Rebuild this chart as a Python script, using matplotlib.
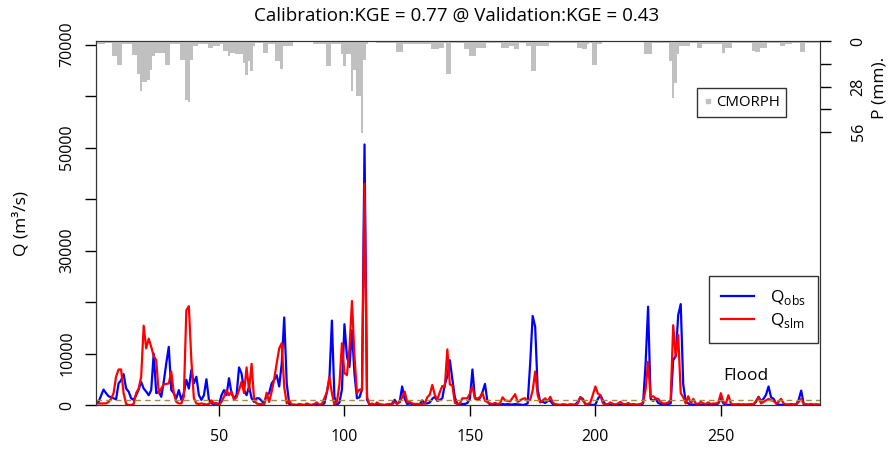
import numpy as np
import matplotlib
matplotlib.use("Agg")
import matplotlib.pyplot as plt
from matplotlib.lines import Line2D

plt.rcParams['font.family'] = ['Open Sans', 'DejaVu Sans']
plt.rcParams['mathtext.fontset'] = 'custom'
plt.rcParams['mathtext.rm'] = 'Open Sans'

# daily discharge, observed (m3/s)
q_obs = [
    300, 600, 1800, 3000, 2300, 1700, 1500, 1300, 1100, 4200,
    4800, 6000, 3200, 2600, 1300, 1000, 1900, 3000, 4500, 3200,
    2600, 1900, 2900, 10000, 2300, 2600, 1600, 4500, 8100, 11300,
    2900, 2300, 1300, 2900, 1000, 2300, 4900, 3200, 6800, 4200,
    5500, 1900, 1000, 1900, 5000, 1000, 300, 200, 300, 0,
    1900, 2900, 1900, 5200, 2300, 1300, 1900, 7300, 6100, 2900,
    1900, 3600, 1300, 600, 1300, 1300, 800, 300, 1900, 2300,
    4200, 4900, 5800, 3600, 8000, 17000, 4200, 200, 100, 0,
    0, 100, 0, 0, 100, 0, 0, 100, 0, 0,
    100, 300, 2500, 5000, 16400, 1600, 0, 500, 3000, 15700,
    9400, 7400, 14500, 6000, 1300, 1500, 3000, 50600, 1000, 100,
    100, 0, 0, 100, 0, 0, 100, 0, 300, 1000,
    300, 600, 3600, 1200, 200, 300, 200, 100, 200, 100,
    900, 300, 300, 500, 1200, 1600, 800, 1000, 1300, 4000,
    5600, 8700, 5000, 1500, 200, 100, 200, 200, 400, 1200,
    6900, 1300, 1000, 1300, 2500, 4100, 600, 100, 100, 0,
    100, 0, 200, 100, 200, 100, 100, 200, 100, 100,
    0, 100, 300, 8000, 17300, 15200, 3000, 600, 600, 400,
    800, 800, 200, 100, 0, 0, 100, 0, 0, 100,
    0, 100, 600, 1500, 1200, 200, 0, 100, 0, 100,
    1200, 1900, 900, 100, 0, 0, 100, 0, 0, 100,
    0, 100, 0, 0, 100, 0, 0, 100, 300, 8000,
    19100, 1200, 800, 1200, 400, 200, 100, 100, 200, 300,
    8700, 9500, 17500, 19600, 4000, 600, 300, 100, 100, 0,
    100, 0, 100, 100, 0, 100, 0, 100, 300, 1300,
    300, 100, 0, 100, 0, 100, 0, 0, 100, 0,
    100, 0, 100, 600, 1600, 800, 1200, 2000, 3600, 1500,
    1200, 300, 100, 0, 100, 0, 100, 0, 100, 100,
    1000, 2800, 200, 100, 0, 100, 0, 100, 0]

# daily discharge, simulated (m3/s)
q_sim = [
    300, 300, 300, 300, 300, 600, 1200, 2300, 5500, 6900,
    6900, 2300, 200, 0, 0, 200, 2300, 3200, 5500, 15400,
    11000, 12900, 11300, 9500, 8700, 2300, 3200, 4000, 4100, 4200,
    6500, 2300, 600, 300, 300, 1600, 18400, 19200, 8700, 1300,
    300, 200, 300, 200, 100, 200, 900, 300, 400, 0,
    600, 1600, 2900, 1900, 2600, 1000, 1500, 2900, 4500, 2300,
    7300, 2900, 8000, 1000, 300, 200, 200, 0, 2400, 600,
    2600, 5000, 8100, 11000, 12000, 3500, 300, 900, 0, 100,
    0, 200, 100, 0, 300, 100, 0, 200, 500, 0,
    200, 1300, 2500, 5500, 2300, 0, 600, 4000, 12000, 6200,
    5800, 11000, 20200, 9400, 2300, 3000, 3000, 43000, 1500, 0,
    300, 0, 500, 100, 100, 0, 100, 200, 100, 600,
    200, 600, 1500, 2600, 600, 600, 300, 200, 200, 200,
    200, 300, 1500, 2000, 3900, 2000, 1000, 2500, 3700, 3500,
    10800, 4000, 3800, 400, 200, 300, 1300, 1300, 1300, 2200,
    3600, 1300, 1300, 1500, 2300, 800, 600, 300, 200, 400,
    200, 300, 1500, 900, 800, 700, 1400, 2100, 600, 900,
    1200, 1300, 800, 1000, 2800, 6500, 1900, 500, 900, 1300,
    700, 1600, 500, 100, 100, 0, 100, 100, 0, 100,
    100, 0, 300, 1500, 900, 200, 200, 500, 2000, 3600,
    2200, 1900, 300, 100, 200, 500, 200, 100, 300, 600,
    200, 100, 400, 100, 200, 100, 100, 200, 500, 3000,
    8400, 1500, 1700, 1300, 1200, 600, 300, 300, 500, 1000,
    15500, 9400, 13600, 2300, 1500, 300, 1700, 300, 1200, 300,
    200, 600, 300, 200, 500, 200, 300, 300, 500, 2300,
    600, 300, 1900, 300, 100, 100, 200, 100, 100, 100,
    100, 200, 100, 800, 1500, 300, 600, 900, 1200, 900,
    800, 300, 600, 1200, 300, 100, 100, 200, 100, 100,
    600, 1200, 200, 100, 100, 200, 100, 100, 100]

# daily CMORPH rainfall (mm)
rain = [
    0.5, 2, 2, 2, 1.5, 1.5, 1.5, 9, 9, 15,
    15, 2, 2, 2, 2, 8.5, 8.5, 20, 31, 25,
    25, 24, 18, 9.4, 7.3, 7.3, 7.3, 7.3, 14.5, 14.5,
    2, 2, 2, 2, 11.4, 11.4, 36, 37.7, 11.4, 3,
    3, 2, 2, 2, 2, 4, 4, 3, 3, 3,
    2, 6, 6, 9.4, 7.3, 7.3, 8.3, 8.3, 8.3, 13.5,
    20.7, 12.4, 18.6, 3, 1, 1, 1, 7.3, 7.3, 2,
    2, 2, 12.4, 12.4, 17, 3, 3, 2.8, 2.8, 0.5,
    0.5, 0.5, 0.5, 0.5, 0.5, 0.5, 0.5, 2, 2, 2,
    2, 2, 15.5, 15.5, 2, 2, 2, 2, 8.3, 15.5,
    8.3, 8.3, 31, 17.6, 34, 34, 56.6, 11.4, 2, 0.7,
    0.7, 0.7, 1.5, 1.5, 1.5, 1.5, 1.5, 1.5, 1.5, 1.5,
    7, 7, 7, 2, 2, 2, 2, 2, 2, 2,
    2, 2, 2, 2, 5, 5, 5, 4, 4, 1.5,
    20.6, 20.6, 1.5, 1.5, 1.5, 1.5, 1.5, 5, 5, 9.4,
    9.4, 9.4, 4, 4, 4, 4, 1.5, 1.5, 1.5, 1.5,
    1.5, 1.5, 4, 4, 4, 3, 3, 4.8, 4.8, 1.5,
    1, 1, 3, 3, 18.6, 18.6, 3, 3, 3, 3,
    3, 1.5, 1.5, 1.5, 1.5, 1.5, 1.5, 1, 1, 1,
    1, 1, 4, 4, 5, 5, 2, 1, 14.5, 14.5,
    2, 2, 0.5, 0.5, 0.5, 0.5, 0.5, 0.5, 0.5, 0.5,
    0.5, 0.5, 0.5, 0.5, 0.5, 0.5, 0.5, 0.5, 0.5, 8.3,
    8.3, 8.3, 1, 1, 1, 1, 1, 1, 1, 12,
    35, 26, 8.3, 3, 3, 3, 3, 1.5, 1.5, 1.5,
    4, 4, 2, 2, 2, 2, 2, 2, 2, 2,
    7.3, 4, 4, 4, 1.5, 1.5, 1.5, 1.5, 1.5, 1.5,
    1.5, 1.5, 6, 7, 7, 4, 4, 4, 1.5, 1.5,
    1.5, 1.5, 1.5, 3, 3, 2, 2, 2, 1.5, 1.5,
    1.5, 7, 7, 1.5, 1.5, 1.5, 1.5, 1.5, 1.5]

flood_q = 900
days = np.arange(1, len(q_obs) + 1)

fig = plt.figure(figsize=(8.91, 4.5), dpi=100)
ax = fig.add_axes([96/891, 45/450, 724/891, 364/450])

ax.plot(days, q_obs, color='blue', lw=1.6, label=r'Q$_\mathrm{obs}$')
ax.plot(days, q_sim, color='red', lw=1.6, label=r'Q$_\mathrm{slm}$')
ax.axhline(flood_q, color='#a8894c', lw=1.0, ls=(0, (4, 3)))
ax.text(260, 5700, 'Flood', ha='center', va='center', fontsize=12.5)

ax.set_xlim(1, 289.5)
ax.set_ylim(0, 70700)
ax.set_xticks([50, 100, 150, 200, 250])
ax.set_yticks(np.arange(0, 70001, 10000))
ax.set_yticklabels(['0', '10000', '', '30000', '', '50000', '', '70000'],
                   rotation=90, va='center')
ax.tick_params(axis='both', direction='out', length=8, width=1, labelsize=11.5)
ax.tick_params(axis='x', pad=9)
ax.tick_params(axis='y', pad=7)
ax.set_ylabel('Q (m³/s)', fontsize=12.5)
ax.yaxis.set_label_coords(-0.092, 0.5)
for s in ax.spines.values():
    s.set_color('#333333')

ax.legend(loc='upper left', bbox_to_anchor=(709/891, 1 - 276/450),
          bbox_transform=fig.transFigure, fancybox=False, edgecolor='#333333',
          framealpha=1, fontsize=12.5, handlelength=1.9, borderpad=0.7,
          labelspacing=0.25, handletextpad=0.9, borderaxespad=0)

ax2 = ax.twinx()
ax2.bar(days, rain, width=1.0, color='#c0c0c0', linewidth=0)
ax2.set_ylim(224, 0)
ax2.set_yticks([0, 14, 28, 42, 56])
ax2.set_yticklabels(['0', '', '28', '', '56'], rotation=90, va='center')
ax2.tick_params(axis='y', direction='out', length=8, width=1, labelsize=11.5, pad=14)
ax2.set_ylabel('P (mm).', fontsize=12.5)
ax2.yaxis.set_label_coords(1.071, 0.87)
for s in ax2.spines.values():
    s.set_color('#333333')

h = [Line2D([], [], marker='s', ls='none', color='#c0c0c0', markersize=3.5)]
ax2.legend(h, ['CMORPH'], loc='upper left', bbox_to_anchor=(697/891, 1 - 88/450),
           bbox_transform=fig.transFigure, fancybox=False, edgecolor='#333333',
           framealpha=1, fontsize=10.8, handlelength=0.5, handletextpad=0.3,
           borderpad=0.45, borderaxespad=0)

fig.text(457/891, 1 - 16/450, 'Calibration:KGE = 0.77 @ Validation:KGE = 0.43',
         ha='center', va='center', fontsize=13.5)

fig.savefig('out.png', dpi=100)
